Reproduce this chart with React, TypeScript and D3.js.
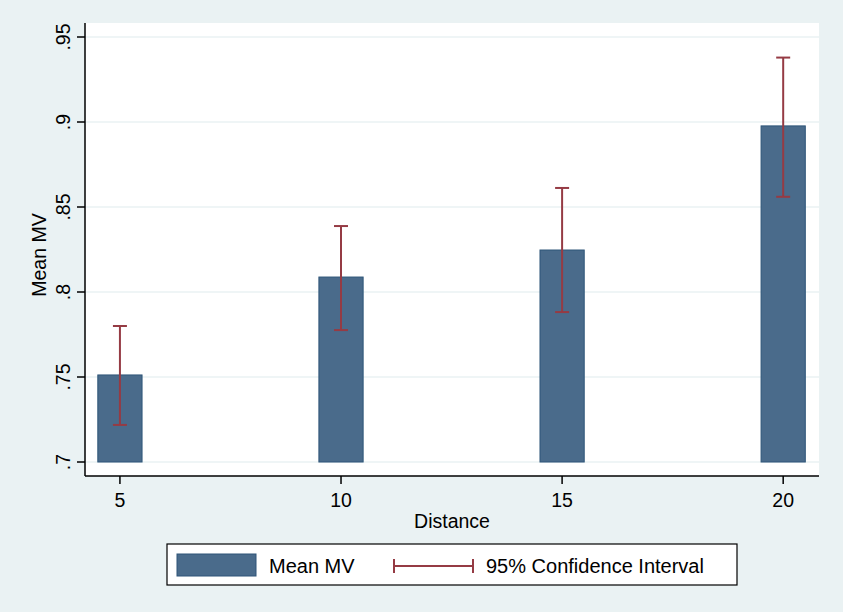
import React from "react";
import * as d3 from "d3";

const categories: number[] = [5, 10, 15, 20];
const meanMV: number[] = [0.7512, 0.8088, 0.8247, 0.8977];
const ciLow: number[] = [0.7218, 0.7776, 0.7882, 0.856];
const ciHigh: number[] = [0.78, 0.8388, 0.8612, 0.9379];
const yTicks: number[] = [0.7, 0.75, 0.8, 0.85, 0.9, 0.95];
const yTickLabels: string[] = [".7", ".75", ".8", ".85", ".9", ".95"];
const xTicks: number[] = [5, 10, 15, 20];

const W = 843;
const H = 612;
const BG = "#eaf2f3";
const BAR = "#4a6b8b";
const BAR_EDGE = "#2e5578";
const CI = "#953b44";
const FONT = "'Liberation Sans', Arial, Helvetica, sans-serif";
const FS = 19.5;
const LFS = 20;

export default function App() {
  const left = 85, right = 819, top = 23, bottom = 476;
  const x = d3.scaleLinear().domain([4.21, 20.81]).range([left, right]);
  const y = d3.scaleLinear().domain([0.7, 0.95]).range([462, 37]);
  const barW = x(1) - x(0);
  const capW = 14;
  const base = 0.7;

  return (
    <svg width={W} height={H} style={{ position: "absolute", left: 0, top: 0 }} fontFamily={FONT}>
      <rect x={0} y={0} width={W} height={H} fill={BG} />
      <rect x={left} y={top} width={right - left} height={bottom - top} fill="#ffffff" />
      {yTicks.map((t, i) => (
        <line key={"g" + i} x1={left} x2={right} y1={y(t)} y2={y(t)} stroke={BG} strokeWidth={1.5} />
      ))}
      {categories.map((c, i) => (
        <rect
          key={"b" + i}
          x={x(c) - barW / 2}
          y={y(meanMV[i])}
          width={barW}
          height={y(base) - y(meanMV[i])}
          fill={BAR}
          stroke={BAR_EDGE}
          strokeWidth={1}
        />
      ))}
      {categories.map((c, i) => (
        <g key={"ci" + i} stroke={CI} strokeWidth={2}>
          <line x1={x(c)} x2={x(c)} y1={y(ciHigh[i])} y2={y(ciLow[i])} />
          <line x1={x(c) - capW / 2} x2={x(c) + capW / 2} y1={y(ciHigh[i])} y2={y(ciHigh[i])} />
          <line x1={x(c) - capW / 2} x2={x(c) + capW / 2} y1={y(ciLow[i])} y2={y(ciLow[i])} />
        </g>
      ))}
      {/* axes */}
      <line x1={left} x2={left} y1={top} y2={bottom} stroke="#000" strokeWidth={1.5} />
      <line x1={left} x2={right} y1={bottom} y2={bottom} stroke="#000" strokeWidth={1.5} />
      {yTicks.map((t, i) => (
        <g key={"yt" + i}>
          <line x1={left - 8} x2={left} y1={y(t)} y2={y(t)} stroke="#000" strokeWidth={1.5} />
          <text
            transform={`translate(70,${y(t)}) rotate(-90)`}
            textAnchor="middle"
            fontSize={FS}
            fill="#000"
          >
            {yTickLabels[i]}
          </text>
        </g>
      ))}
      {xTicks.map((t, i) => (
        <g key={"xt" + i}>
          <line x1={x(t)} x2={x(t)} y1={bottom} y2={bottom + 8} stroke="#000" strokeWidth={1.5} />
          <text x={x(t)} y={507} textAnchor="middle" fontSize={FS} fill="#000">
            {String(t)}
          </text>
        </g>
      ))}
      <text transform={`translate(46,255) rotate(-90)`} textAnchor="middle" fontSize={FS} fill="#000">
        Mean MV
      </text>
      <text x={(left + right) / 2} y={528} textAnchor="middle" fontSize={FS} fill="#000">
        Distance
      </text>
      {/* legend */}
      <rect x={167} y={544} width={570} height={41} fill="#fff" stroke="#000" strokeWidth={1.2} />
      <rect x={177} y={554} width={79} height={22} fill={BAR} stroke={BAR_EDGE} strokeWidth={1} />
      <text x={269} y={573} fontSize={LFS} fill="#000">Mean MV</text>
      <g stroke={CI} strokeWidth={2}>
        <line x1={394} x2={473} y1={566} y2={566} />
        <line x1={394} x2={394} y1={559} y2={573} />
        <line x1={473} x2={473} y1={559} y2={573} />
      </g>
      <text x={486} y={573} fontSize={LFS} fill="#000">95% Confidence Interval</text>
    </svg>
  );
}
